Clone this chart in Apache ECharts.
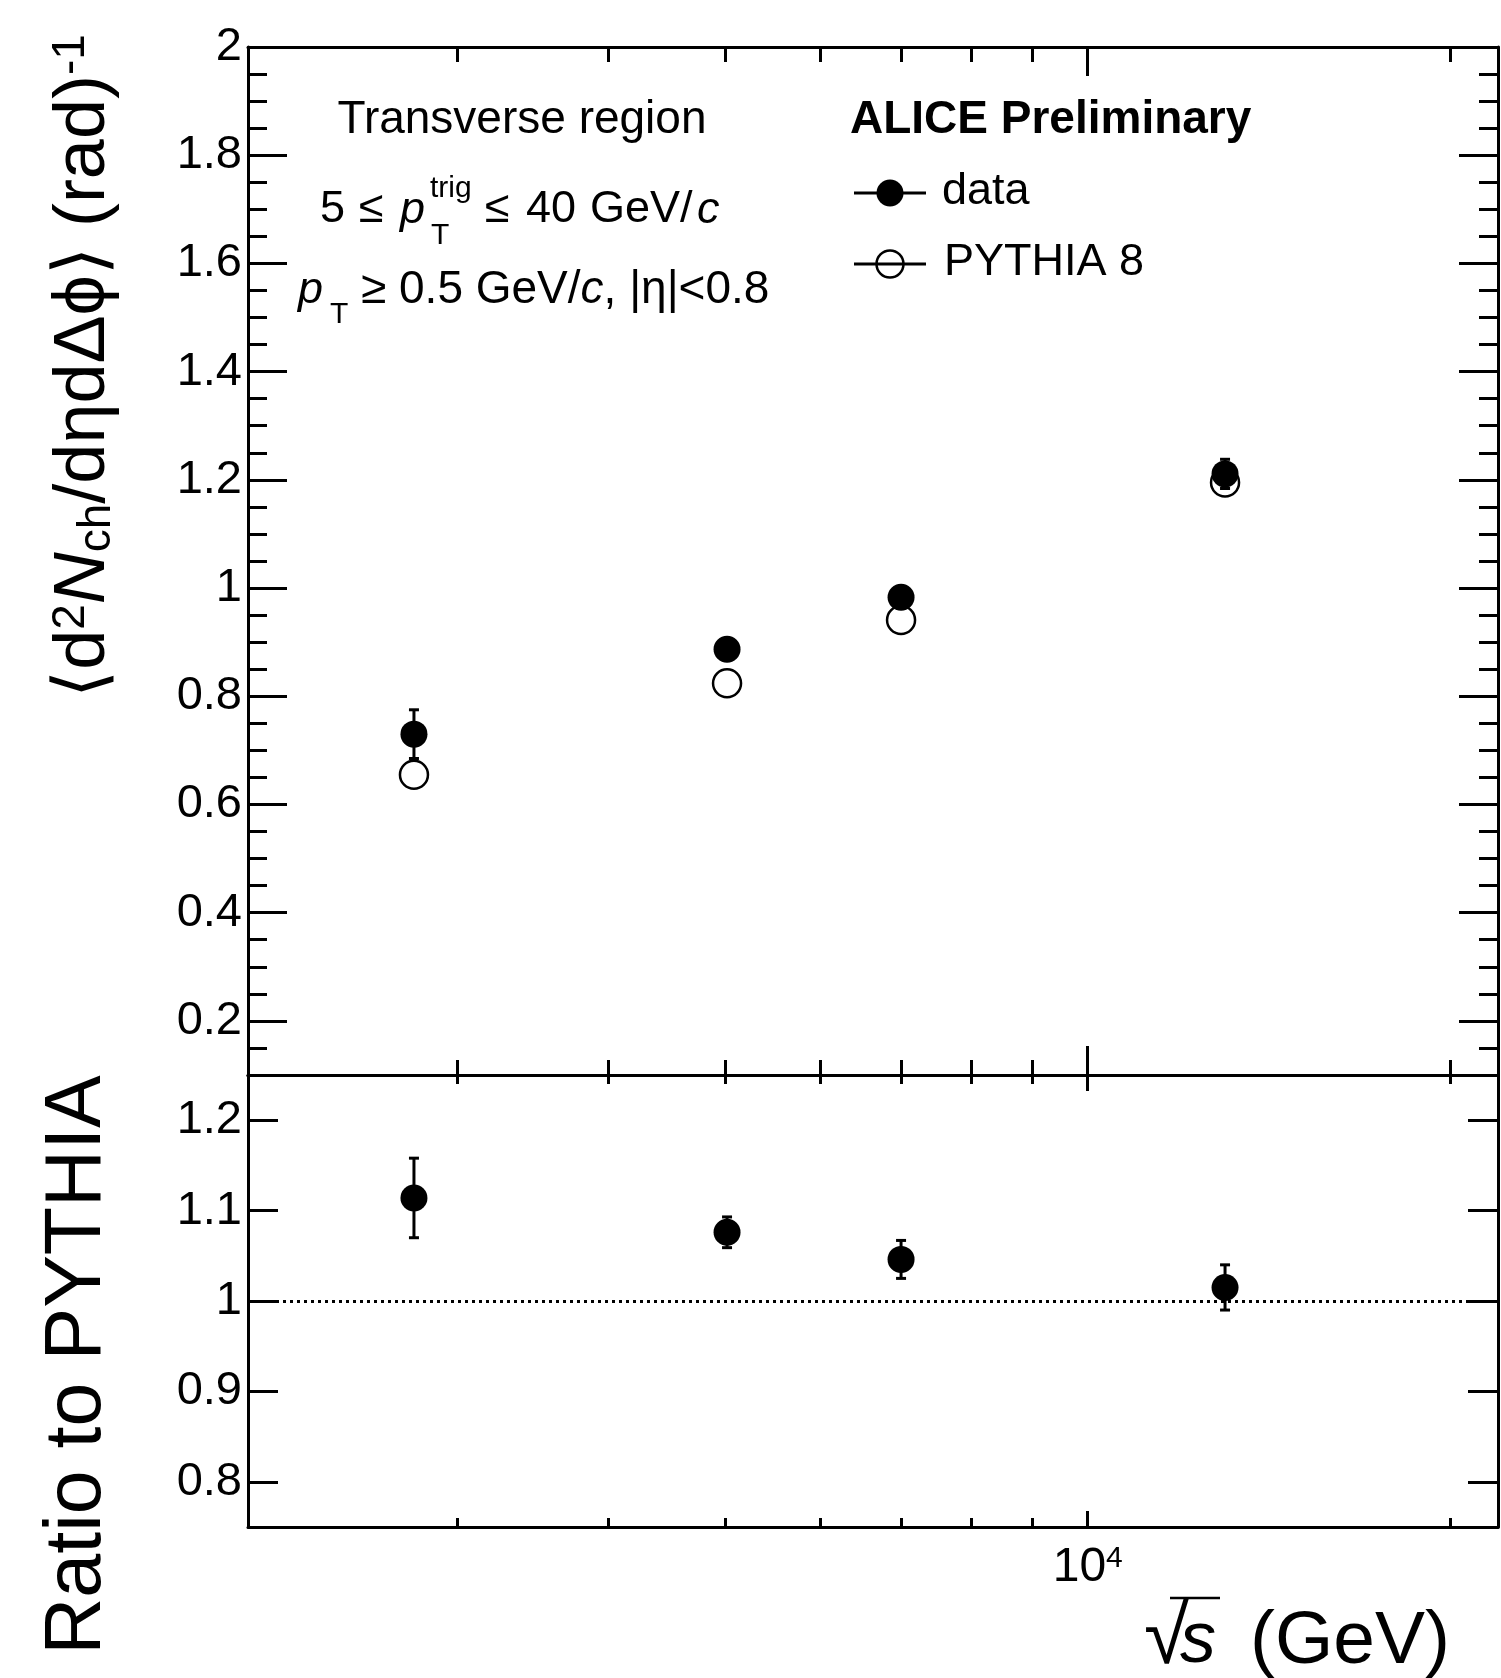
<!DOCTYPE html>
<html>
<head>
<meta charset="utf-8">
<script src="https://cdn.jsdelivr.net/npm/echarts@6.0.0/dist/echarts.min.js"></script>
<style>
html,body{margin:0;padding:0;background:#fff;}
#chart{width:1501px;height:1678px;}
</style>
</head>
<body>
<div id="chart"></div>
<script>
// ---- data ----
const energies = [2760, 5020, 7000, 13000];          // sqrt(s) in GeV
const dataValues = [0.730, 0.887, 0.983, 1.211];
const dataErrors = [0.045, 0.014, 0.020, 0.027];
const pythiaValues = [0.655, 0.824, 0.941, 1.195];
const ratioValues = [1.114, 1.076, 1.046, 1.015];
const ratioErrors = [0.044, 0.017, 0.021, 0.025];

// ---- tick values ----
const upperTicks = [0.2, 0.4, 0.6, 0.8, 1, 1.2, 1.4, 1.6, 1.8, 2];
const upperMinorTicks = [0.15, 0.25, 0.3, 0.35, 0.45, 0.5, 0.55, 0.65, 0.7, 0.75, 0.85, 0.9, 0.95,
  1.05, 1.1, 1.15, 1.25, 1.3, 1.35, 1.45, 1.5, 1.55, 1.65, 1.7, 1.75, 1.85, 1.9, 1.95];
const ratioTicks = [0.8, 0.9, 1.0, 1.1, 1.2];
const xMinorTicks = [3000, 4000, 5000, 6000, 7000, 8000, 9000, 20000];
const xMajorTicks = [10000];
const xLabelTicks = [10000];

const FONT = "'Liberation Sans', Arial, Helvetica, sans-serif";
const X_MIN = 2010, X_MAX = 21900;

function fmtNum(v) { return String(Math.round(v * 100) / 100); }

function xAx(grid, pos, ticks, len, showLine, label) {
  const ax = {
    type: 'log', gridIndex: grid, position: pos, min: X_MIN, max: X_MAX,
    axisLine: { show: showLine, onZero: false, lineStyle: { color: '#000', width: 3 } },
    axisTick: { show: true, inside: true, length: len, customValues: ticks, lineStyle: { color: '#000', width: 3 } },
    axisLabel: { show: false },
    splitLine: { show: false }, minorTick: { show: false }, minorSplitLine: { show: false }
  };
  if (label) {
    ax.axisLabel = {
      show: true, customValues: xLabelTicks, margin: 17,
      formatter: function () { return '{a|10}{b|4}'; },
      rich: {
        a: { fontSize: 48, fontFamily: FONT, color: '#000', lineHeight: 48 },
        b: { fontSize: 30, fontFamily: FONT, color: '#000', lineHeight: 30, verticalAlign: 'top' }
      }
    };
  }
  return ax;
}

function yAx(grid, pos, min, max, ticks, len, showLine, labelTicks) {
  const ax = {
    type: 'value', gridIndex: grid, position: pos, min: min, max: max,
    axisLine: { show: showLine, onZero: false, lineStyle: { color: '#000', width: 3 } },
    axisTick: { show: true, inside: true, length: len, customValues: ticks, lineStyle: { color: '#000', width: 3 } },
    axisLabel: { show: false },
    splitLine: { show: false }, minorTick: { show: false }
  };
  if (labelTicks) {
    ax.axisLabel = {
      show: true, customValues: labelTicks, margin: 6, formatter: fmtNum,
      fontSize: 47, fontFamily: FONT, color: '#000'
    };
  }
  return ax;
}

function errRender(params, api) {
  const x = api.value(0), y = api.value(1), e = api.value(2);
  const top = api.coord([x, y + e]);
  const bot = api.coord([x, y - e]);
  const cap = 5;
  const st = { stroke: '#000', lineWidth: 3 };
  return {
    type: 'group', children: [
      { type: 'line', shape: { x1: top[0], y1: top[1], x2: bot[0], y2: bot[1] }, style: st },
      { type: 'line', shape: { x1: top[0] - cap, y1: top[1], x2: top[0] + cap, y2: top[1] }, style: st },
      { type: 'line', shape: { x1: bot[0] - cap, y1: bot[1], x2: bot[0] + cap, y2: bot[1] }, style: st }
    ]
  };
}

const dataPts = energies.map((e, i) => [e, dataValues[i]]);
const dataErrPts = energies.map((e, i) => [e, dataValues[i], dataErrors[i]]);
const pythiaPts = energies.map((e, i) => [e, pythiaValues[i]]);
const ratioPts = energies.map((e, i) => [e, ratioValues[i]]);
const ratioErrPts = energies.map((e, i) => [e, ratioValues[i], ratioErrors[i]]);

const txt = (x, y, text, opts) => Object.assign({
  type: 'text', x: x, y: y, z: 100,
  style: Object.assign({ text: text, fill: '#000', fontFamily: FONT, fontSize: 45, align: 'left', verticalAlign: 'middle' }, opts || {})
});

const option = {
  animation: false,
  backgroundColor: '#fff',
  grid: [
    { left: 248, right: 3, top: 47, height: 1028, containLabel: false, outerBoundsMode: 'none' },
    { left: 248, right: 3, top: 1075, height: 452, containLabel: false, outerBoundsMode: 'none' }
  ],
  xAxis: [
    xAx(0, 'bottom', xMinorTicks, 15, true),
    xAx(0, 'bottom', xMajorTicks, 29, false),
    xAx(0, 'top', xMinorTicks, 15, true),
    xAx(0, 'top', xMajorTicks, 29, false),
    xAx(1, 'bottom', xMinorTicks, 9, true, true),
    xAx(1, 'bottom', xMajorTicks, 16, false),
    xAx(1, 'top', xMinorTicks, 9, true),
    xAx(1, 'top', xMajorTicks, 16, false)
  ],
  yAxis: [
    yAx(0, 'left', 0.1, 2, upperTicks, 39, true, upperTicks),
    yAx(0, 'left', 0.1, 2, upperMinorTicks, 19, false),
    yAx(0, 'right', 0.1, 2, upperTicks, 39, true),
    yAx(0, 'right', 0.1, 2, upperMinorTicks, 19, false),
    yAx(1, 'left', 0.75, 1.25, ratioTicks, 30, true, ratioTicks),
    yAx(1, 'right', 0.75, 1.25, ratioTicks, 30, true)
  ],
  series: [
    {
      name: 'PYTHIA 8', type: 'scatter', xAxisIndex: 0, yAxisIndex: 0, z: 2,
      symbol: 'circle', symbolSize: 28, data: pythiaPts,
      itemStyle: { color: '#fff', borderColor: '#000', borderWidth: 2.5, opacity: 1 }
    },
    {
      name: 'data', type: 'scatter', xAxisIndex: 0, yAxisIndex: 0, z: 3,
      symbol: 'circle', symbolSize: 27, data: dataPts, itemStyle: { color: '#000', opacity: 1 }
    },
    {
      name: 'data errors', type: 'custom', xAxisIndex: 0, yAxisIndex: 0, z: 4,
      renderItem: errRender, data: dataErrPts, encode: { x: 0, y: 1 }
    },
    {
      name: 'Ratio to PYTHIA', type: 'scatter', xAxisIndex: 4, yAxisIndex: 4, z: 3,
      symbol: 'circle', symbolSize: 27, data: ratioPts, itemStyle: { color: '#000', opacity: 1 },
      markLine: {
        silent: true, symbol: 'none', label: { show: false }, z: 1,
        lineStyle: { color: '#000', width: 3, type: [3, 4], opacity: 1 },
        data: [{ yAxis: 1 }]
      }
    },
    {
      name: 'ratio errors', type: 'custom', xAxisIndex: 4, yAxisIndex: 4, z: 4,
      renderItem: errRender, data: ratioErrPts, encode: { x: 0, y: 1 }
    }
  ],
  graphic: [
    // y-axis titles
    {
      type: 'text', x: 84, y: 366, rotation: Math.PI / 2, z: 100,
      style: {
        text: '{n|⟨d}{sup|2}{it|N}{sub|ch}{n|/dηdΔϕ⟩ (rad)}{sup|-1}',
        align: 'center', verticalAlign: 'middle', fill: '#000',
        rich: {
          n: { fontSize: 72, fontFamily: FONT, lineHeight: 72 },
          it: { fontSize: 72, fontFamily: FONT, fontStyle: 'italic', lineHeight: 72 },
          sup: { fontSize: 46, fontFamily: FONT, verticalAlign: 'top', lineHeight: 46 },
          sub: { fontSize: 46, fontFamily: FONT, verticalAlign: 'bottom', lineHeight: 46 }
        }
      }
    },
    {
      type: 'text', x: 78, y: 1365, rotation: Math.PI / 2, z: 100,
      style: { text: 'Ratio to PYTHIA', align: 'center', verticalAlign: 'middle', fill: '#000', fontSize: 79, fontFamily: FONT }
    },
    // x-axis title
    txt(1144, 1640, '√', { fontSize: 82 }),
    { type: 'line', z: 100, shape: { x1: 1170, y1: 1598, x2: 1220, y2: 1598 }, style: { stroke: '#000', lineWidth: 2.5 } },
    txt(1180, 1642, 's', { fontSize: 72, fontStyle: 'italic' }),
    txt(1250, 1642, '(GeV)', { fontSize: 75 }),
    // annotations
    txt(522, 120, 'Transverse region', { fontSize: 46, align: 'center' }),
    txt(320, 210, '5', { fontSize: 45 }),
    txt(359, 210, '≤', { fontSize: 45 }),
    txt(400, 210, 'p', { fontSize: 45, fontStyle: 'italic' }),
    txt(430, 189, 'trig', { fontSize: 30 }),
    txt(431, 236, 'T', { fontSize: 30 }),
    txt(485, 210, '≤', { fontSize: 45 }),
    txt(526, 210, '40', { fontSize: 45 }),
    txt(590, 210, 'GeV/', { fontSize: 45 }),
    txt(697, 210, 'c', { fontSize: 45, fontStyle: 'italic' }),
    txt(298, 290, 'p', { fontSize: 45, fontStyle: 'italic' }),
    txt(330, 315, 'T', { fontSize: 30 }),
    txt(361, 290, '{n|≥ 0.5 GeV/}{i|c}{n|, |η|<0.8}', {
      rich: { n: { fontSize: 46, fontFamily: FONT }, i: { fontSize: 46, fontFamily: FONT, fontStyle: 'italic' } }
    }),
    txt(850, 120, 'ALICE Preliminary', { fontSize: 46, fontWeight: 'bold' }),
    // legend
    { type: 'line', z: 100, shape: { x1: 854, y1: 193, x2: 926, y2: 193 }, style: { stroke: '#000', lineWidth: 3 } },
    { type: 'circle', z: 101, shape: { cx: 890, cy: 193, r: 13.5 }, style: { fill: '#000' } },
    txt(942, 192, 'data', { fontSize: 45 }),
    { type: 'line', z: 100, shape: { x1: 854, y1: 264, x2: 926, y2: 264 }, style: { stroke: '#000', lineWidth: 3 } },
    { type: 'circle', z: 101, shape: { cx: 890, cy: 264, r: 13.5 }, style: { fill: 'none', stroke: '#000', lineWidth: 2.5 } },
    txt(944, 263, 'PYTHIA 8', { fontSize: 45 })
  ]
};

const chart = echarts.init(document.getElementById('chart'), null, { renderer: 'canvas', width: 1501, height: 1678 });
chart.setOption(option);
</script>
</body>
</html>
